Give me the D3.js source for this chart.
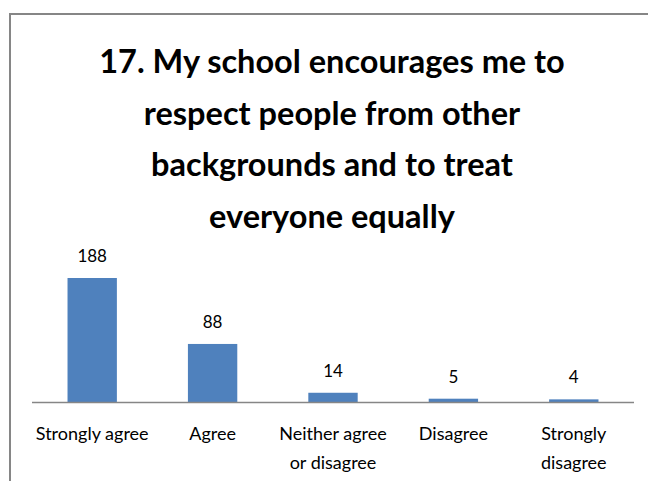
<!DOCTYPE html>
<html>
<head>
<meta charset="utf-8">
<script src="https://cdn.jsdelivr.net/npm/d3@7"></script>
<style>
  body { margin: 0; background: #fff; }
  text { font-family: Lato, "Open Sans", sans-serif; }
</style>
</head>
<body>
<script>
var categories = [["Strongly agree"], ["Agree"], ["Neither agree", "or disagree"], ["Disagree"], ["Strongly", "disagree"]];
var values = [188, 88, 14, 5, 4];
var titleLines = ["17. My school encourages me to", "respect people from other", "backgrounds and to treat", "everyone equally"];

var width = 648, height = 481;
var svg = d3.select("body").append("svg")
  .attr("width", width)
  .attr("height", height);

// outer frame, runs off the right and bottom edges
svg.append("rect")
  .attr("x", 10).attr("y", 14)
  .attr("width", 700).attr("height", 500)
  .attr("fill", "#fff")
  .attr("stroke", "#868686")
  .attr("stroke-width", 2);

svg.selectAll(".title")
  .data(titleLines)
  .enter().append("text")
  .attr("class", "title")
  .attr("x", 332)
  .attr("y", function(d, i) { return 73 + i * 51.5; })
  .attr("text-anchor", "middle")
  .style("font-size", "32.5px")
  .style("font-weight", "bold")
  .text(function(d) { return d; });

var x = d3.scaleBand()
  .domain(d3.range(values.length))
  .range([32, 634])
  .paddingInner(0.59)
  .paddingOuter(0.295);

var y = d3.scaleLinear()
  .domain([0, 188])
  .range([402, 278]);

svg.selectAll(".bar")
  .data(values)
  .enter().append("rect")
  .attr("class", "bar")
  .attr("x", function(d, i) { return x(i); })
  .attr("width", x.bandwidth())
  .attr("y", function(d) { return y(d); })
  .attr("height", function(d) { return y(0) - y(d); })
  .attr("fill", "#4f81bd");

svg.append("line")
  .attr("x1", 32).attr("x2", 634)
  .attr("y1", 402.5).attr("y2", 402.5)
  .attr("stroke", "#868686")
  .attr("stroke-width", 1.5);

svg.selectAll(".val")
  .data(values)
  .enter().append("text")
  .attr("class", "val")
  .attr("x", function(d, i) { return x(i) + x.bandwidth() / 2; })
  .attr("y", function(d) { return y(d) - 16; })
  .attr("text-anchor", "middle")
  .style("font-size", "17px")
  .text(function(d) { return d; });

var labels = svg.selectAll(".cat")
  .data(categories)
  .enter().append("text")
  .attr("class", "cat")
  .attr("text-anchor", "middle")
  .style("font-size", "18px");

labels.selectAll("tspan")
  .data(function(d, i) { return d.map(function(s) { return {s: s, i: i}; }); })
  .enter().append("tspan")
  .attr("x", function(d) { return x(d.i) + x.bandwidth() / 2; })
  .attr("y", function(d, j) { return 440 + j * 29; })
  .text(function(d) { return d.s; });
</script>
</body>
</html>
